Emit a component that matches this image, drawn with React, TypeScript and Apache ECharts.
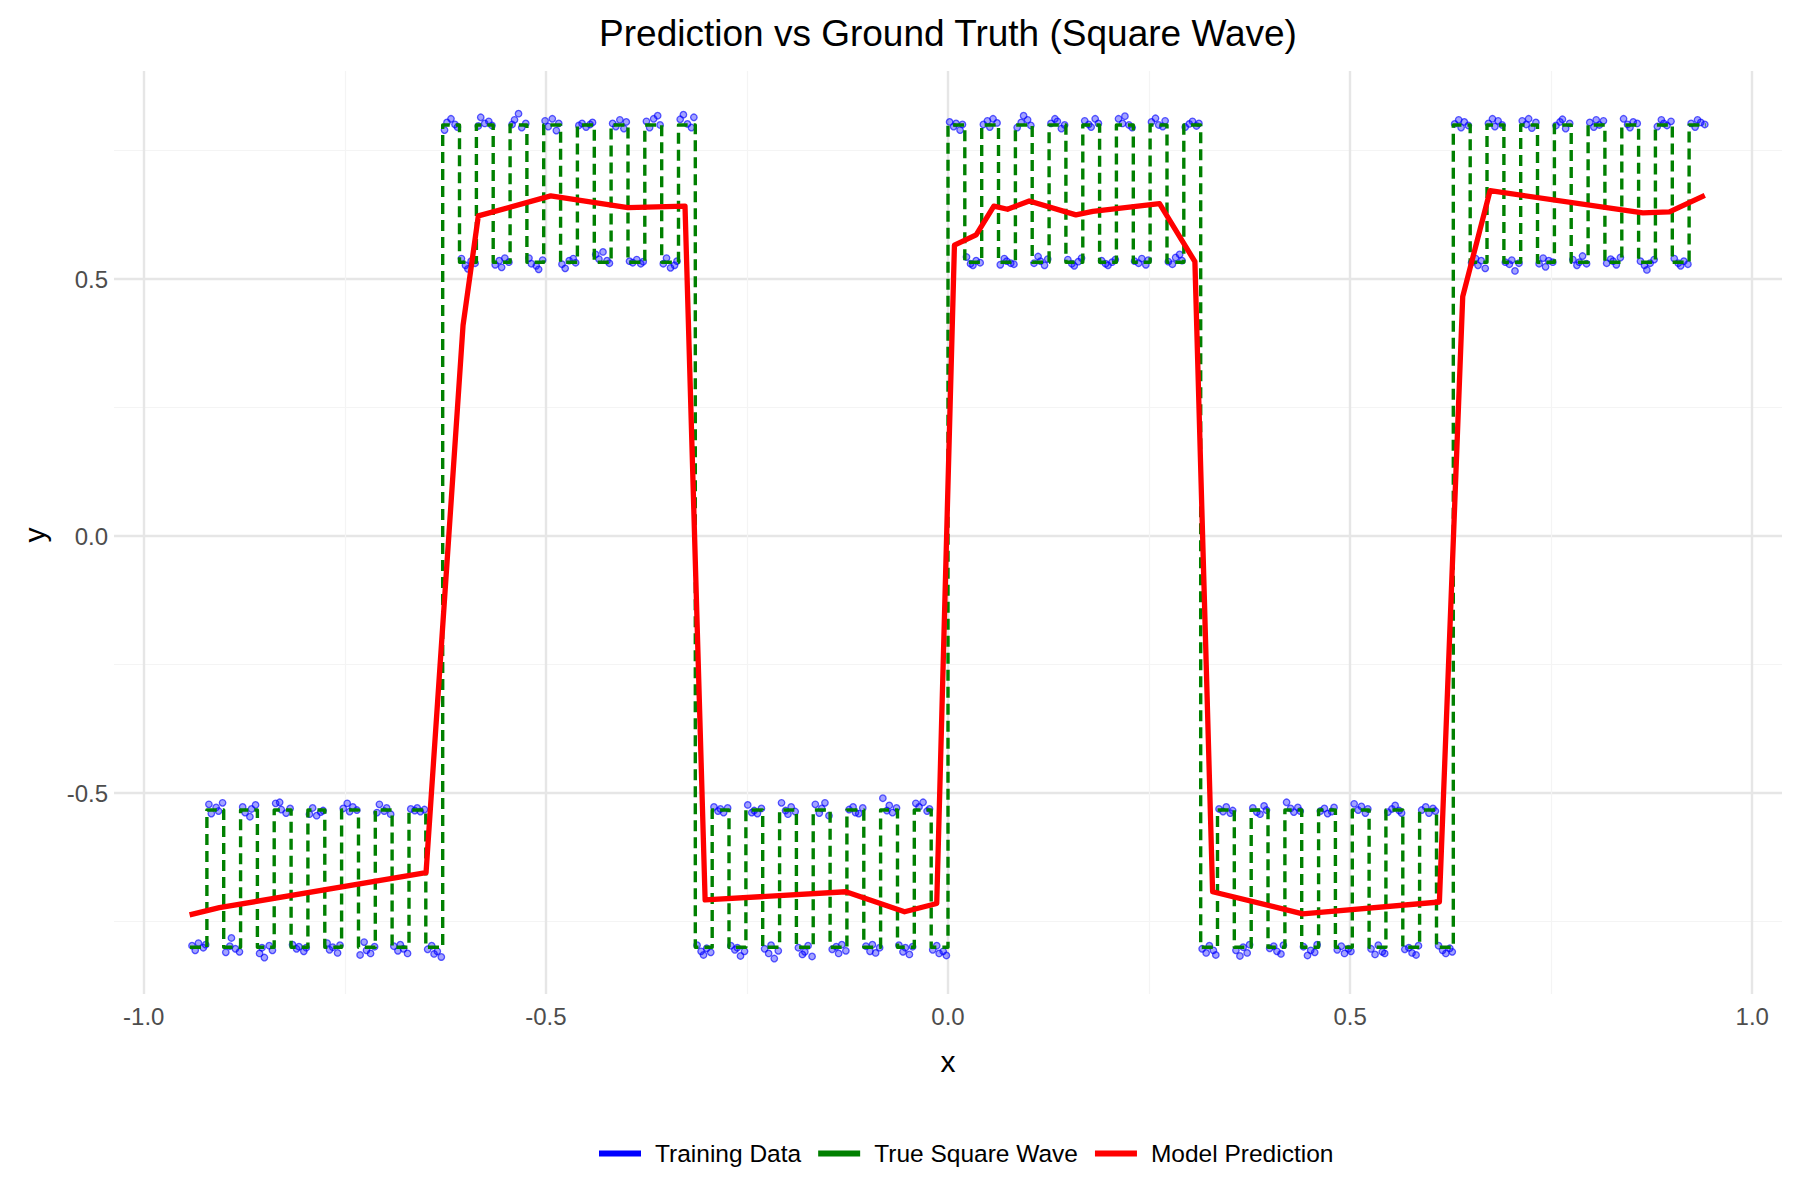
import React, { useEffect, useRef } from 'react';
import * as echarts from 'echarts';

const FONT = '"Liberation Sans", Arimo, Helvetica, Arial, sans-serif';

const X_MIN = -1.037;
const X_MAX = 1.037;
const Y_MIN = -0.891;
const Y_MAX = 0.905;

const X_MAJOR = [-1, -0.5, 0, 0.5, 1];
const X_MINOR = [-0.75, -0.25, 0.25, 0.75];
const Y_MAJOR = [-0.5, 0, 0.5];
const Y_MINOR = [-0.75, -0.25, 0.25, 0.75];

const TITLE = 'Prediction vs Ground Truth (Square Wave)';
const SERIES_NAMES = ['Training Data', 'True Square Wave', 'Model Prediction'];

// x positions where the true square wave switches level (read from the dashed verticals)
const WAVE_EDGES = [
  -0.9425, -0.9215, -0.9006, -0.8796, -0.8587, -0.8378, -0.8168, -0.7959, -0.7749, -0.754,
  -0.733, -0.7121, -0.6912, -0.6702, -0.6493, -0.6283, -0.6074, -0.5864, -0.5655, -0.5445,
  -0.5236, -0.5027, -0.4817, -0.4608, -0.4398, -0.4189, -0.3979, -0.377, -0.356, -0.3351,
  -0.3142, -0.2932, -0.2723, -0.2513, -0.2304, -0.2094, -0.1885, -0.1676, -0.1466, -0.1257,
  -0.1047, -0.0838, -0.0628, -0.0419, -0.0209, 0, 0.0209, 0.0419, 0.0628, 0.0838,
  0.1047, 0.1257, 0.1466, 0.1676, 0.1885, 0.2094, 0.2304, 0.2513, 0.2723, 0.2932,
  0.3142, 0.3351, 0.356, 0.377, 0.3979, 0.4189, 0.4398, 0.4608, 0.4817, 0.5027,
  0.5236, 0.5445, 0.5655, 0.5864, 0.6074, 0.6283, 0.6493, 0.6702, 0.6912, 0.7121,
  0.733, 0.754, 0.7749, 0.7959, 0.8168, 0.8378, 0.8587, 0.8796, 0.9006, 0.9215, 0.9425,
];

// level of the true wave between consecutive edges
const WAVE_LEVELS = [
  -0.8, -0.533, -0.8, -0.533, -0.8, -0.533, -0.8, -0.533, -0.8, -0.533, -0.8, -0.533, -0.8, -0.533, -0.8,
  0.8, 0.533, 0.8, 0.533, 0.8, 0.533, 0.8, 0.533, 0.8, 0.533, 0.8, 0.533, 0.8, 0.533, 0.8,
  -0.8, -0.533, -0.8, -0.533, -0.8, -0.533, -0.8, -0.533, -0.8, -0.533, -0.8, -0.533, -0.8, -0.533, -0.8,
  0.8, 0.533, 0.8, 0.533, 0.8, 0.533, 0.8, 0.533, 0.8, 0.533, 0.8, 0.533, 0.8, 0.533, 0.8,
  -0.8, -0.533, -0.8, -0.533, -0.8, -0.533, -0.8, -0.533, -0.8, -0.533, -0.8, -0.533, -0.8, -0.533, -0.8,
  0.8, 0.533, 0.8, 0.533, 0.8, 0.533, 0.8, 0.533, 0.8, 0.533, 0.8, 0.533, 0.8, 0.533, 0.8,
];

const TRAIN_A = [
  [-0.940, -0.797], [-0.936, -0.806], [-0.932, -0.792], [-0.926, -0.801], [-0.923, -0.795],
  [-0.919, -0.522], [-0.916, -0.540], [-0.910, -0.528], [-0.907, -0.535], [-0.902, -0.519],
  [-0.898, -0.810], [-0.893, -0.798], [-0.891, -0.782], [-0.886, -0.803], [-0.881, -0.809],
  [-0.877, -0.527], [-0.874, -0.538], [-0.868, -0.546], [-0.866, -0.531], [-0.861, -0.523],
  [-0.856, -0.812], [-0.853, -0.801], [-0.850, -0.820], [-0.844, -0.797], [-0.840, -0.806],
  [-0.836, -0.520], [-0.831, -0.518], [-0.829, -0.532], [-0.823, -0.539], [-0.818, -0.530],
  [-0.815, -0.795], [-0.810, -0.803], [-0.807, -0.799], [-0.801, -0.808], [-0.798, -0.801],
  [-0.794, -0.541], [-0.790, -0.529], [-0.785, -0.544], [-0.780, -0.537], [-0.777, -0.534],
  [-0.772, -0.792], [-0.769, -0.805], [-0.765, -0.800], [-0.759, -0.811], [-0.756, -0.796],
  [-0.752, -0.530], [-0.747, -0.520], [-0.744, -0.536], [-0.740, -0.527], [-0.735, -0.533],
  [-0.731, -0.815], [-0.726, -0.790], [-0.723, -0.806], [-0.718, -0.812], [-0.713, -0.799],
  [-0.710, -0.538], [-0.707, -0.522], [-0.701, -0.535], [-0.698, -0.529], [-0.693, -0.541],
  [-0.689, -0.798], [-0.684, -0.807], [-0.681, -0.795], [-0.677, -0.803], [-0.672, -0.812],
  [-0.668, -0.531], [-0.663, -0.534], [-0.660, -0.529], [-0.656, -0.536], [-0.651, -0.532],
  [-0.647, -0.804], [-0.642, -0.797], [-0.639, -0.813], [-0.635, -0.808], [-0.630, -0.819],
];

const TRAIN_B = [
  [-0.626, 0.790], [-0.623, 0.805], [-0.618, 0.812], [-0.613, 0.801], [-0.610, 0.796],
  [-0.605, 0.540], [-0.600, 0.527], [-0.597, 0.520], [-0.593, 0.535], [-0.588, 0.531],
  [-0.584, 0.798], [-0.581, 0.815], [-0.576, 0.803], [-0.571, 0.807], [-0.567, 0.799],
  [-0.563, 0.528], [-0.558, 0.536], [-0.555, 0.523], [-0.551, 0.541], [-0.546, 0.533],
  [-0.542, 0.801], [-0.539, 0.810], [-0.534, 0.822], [-0.530, 0.795], [-0.525, 0.803],
  [-0.521, 0.541], [-0.518, 0.530], [-0.512, 0.526], [-0.509, 0.519], [-0.504, 0.537],
  [-0.501, 0.808], [-0.497, 0.797], [-0.492, 0.812], [-0.487, 0.789], [-0.484, 0.803],
  [-0.480, 0.529], [-0.476, 0.521], [-0.471, 0.536], [-0.466, 0.540], [-0.463, 0.532],
  [-0.459, 0.799], [-0.455, 0.803], [-0.450, 0.796], [-0.445, 0.801], [-0.442, 0.805],
  [-0.438, 0.548], [-0.434, 0.539], [-0.429, 0.553], [-0.424, 0.536], [-0.421, 0.531],
  [-0.417, 0.803], [-0.413, 0.797], [-0.408, 0.810], [-0.403, 0.793], [-0.400, 0.806],
  [-0.396, 0.535], [-0.392, 0.532], [-0.387, 0.538], [-0.382, 0.530], [-0.379, 0.534],
  [-0.375, 0.807], [-0.371, 0.795], [-0.366, 0.812], [-0.361, 0.818], [-0.358, 0.800],
  [-0.354, 0.530], [-0.350, 0.541], [-0.345, 0.522], [-0.340, 0.527], [-0.337, 0.535],
  [-0.333, 0.811], [-0.329, 0.820], [-0.324, 0.802], [-0.319, 0.795], [-0.316, 0.815],
];

const TRAIN_C = [
  [-0.312, -0.796], [-0.307, -0.808], [-0.304, -0.815], [-0.300, -0.802], [-0.295, -0.810],
  [-0.291, -0.527], [-0.286, -0.535], [-0.283, -0.531], [-0.279, -0.538], [-0.274, -0.529],
  [-0.270, -0.797], [-0.265, -0.805], [-0.262, -0.801], [-0.258, -0.817], [-0.253, -0.808],
  [-0.249, -0.523], [-0.244, -0.538], [-0.241, -0.534], [-0.237, -0.540], [-0.232, -0.530],
  [-0.228, -0.803], [-0.223, -0.812], [-0.220, -0.796], [-0.216, -0.822], [-0.211, -0.807],
  [-0.207, -0.519], [-0.202, -0.534], [-0.199, -0.541], [-0.195, -0.527], [-0.190, -0.536],
  [-0.186, -0.801], [-0.181, -0.814], [-0.178, -0.809], [-0.174, -0.797], [-0.169, -0.818],
  [-0.165, -0.522], [-0.160, -0.539], [-0.157, -0.530], [-0.153, -0.519], [-0.148, -0.544],
  [-0.144, -0.804], [-0.139, -0.799], [-0.136, -0.812], [-0.132, -0.795], [-0.127, -0.807],
  [-0.123, -0.532], [-0.118, -0.527], [-0.115, -0.538], [-0.111, -0.540], [-0.106, -0.529],
  [-0.102, -0.798], [-0.097, -0.808], [-0.094, -0.795], [-0.090, -0.811], [-0.085, -0.801],
  [-0.081, -0.510], [-0.076, -0.534], [-0.073, -0.524], [-0.069, -0.538], [-0.064, -0.529],
  [-0.061, -0.796], [-0.056, -0.809], [-0.053, -0.801], [-0.048, -0.814], [-0.044, -0.799],
  [-0.040, -0.520], [-0.036, -0.527], [-0.031, -0.518], [-0.026, -0.535], [-0.023, -0.531],
  [-0.019, -0.805], [-0.014, -0.797], [-0.011, -0.812], [-0.006, -0.808], [-0.002, -0.816],
];

const TRAIN_D = [
  [0.002, 0.806], [0.007, 0.797], [0.010, 0.803], [0.015, 0.790], [0.018, 0.801],
  [0.023, 0.543], [0.028, 0.530], [0.031, 0.527], [0.035, 0.536], [0.040, 0.532],
  [0.044, 0.801], [0.049, 0.808], [0.052, 0.796], [0.056, 0.812], [0.061, 0.804],
  [0.065, 0.528], [0.070, 0.540], [0.073, 0.535], [0.078, 0.531], [0.082, 0.529],
  [0.086, 0.795], [0.091, 0.805], [0.094, 0.818], [0.099, 0.810], [0.103, 0.799],
  [0.107, 0.531], [0.112, 0.544], [0.115, 0.535], [0.120, 0.527], [0.124, 0.539],
  [0.128, 0.803], [0.133, 0.812], [0.136, 0.807], [0.141, 0.793], [0.145, 0.800],
  [0.149, 0.538], [0.154, 0.530], [0.157, 0.526], [0.162, 0.534], [0.166, 0.541],
  [0.170, 0.808], [0.175, 0.801], [0.178, 0.796], [0.183, 0.812], [0.187, 0.803],
  [0.191, 0.536], [0.196, 0.530], [0.199, 0.527], [0.204, 0.533], [0.208, 0.538],
  [0.212, 0.812], [0.217, 0.803], [0.220, 0.817], [0.225, 0.800], [0.229, 0.795],
  [0.232, 0.535], [0.237, 0.531], [0.241, 0.540], [0.246, 0.528], [0.249, 0.537],
  [0.253, 0.806], [0.258, 0.813], [0.262, 0.800], [0.267, 0.797], [0.270, 0.808],
  [0.274, 0.534], [0.279, 0.529], [0.283, 0.542], [0.288, 0.548], [0.291, 0.536],
  [0.295, 0.796], [0.300, 0.802], [0.304, 0.807], [0.309, 0.798], [0.312, 0.803],
];

const TRAIN_E = [
  [0.316, -0.803], [0.321, -0.811], [0.325, -0.797], [0.330, -0.806], [0.333, -0.815],
  [0.337, -0.531], [0.342, -0.536], [0.346, -0.527], [0.351, -0.539], [0.354, -0.534],
  [0.358, -0.806], [0.363, -0.817], [0.367, -0.800], [0.372, -0.811], [0.375, -0.795],
  [0.379, -0.529], [0.384, -0.537], [0.388, -0.541], [0.393, -0.525], [0.396, -0.533],
  [0.400, -0.802], [0.405, -0.798], [0.409, -0.808], [0.414, -0.813], [0.417, -0.796],
  [0.421, -0.518], [0.426, -0.530], [0.430, -0.537], [0.435, -0.528], [0.438, -0.535],
  [0.442, -0.799], [0.447, -0.816], [0.451, -0.806], [0.456, -0.810], [0.459, -0.795],
  [0.463, -0.535], [0.468, -0.530], [0.472, -0.540], [0.477, -0.536], [0.480, -0.528],
  [0.484, -0.805], [0.489, -0.798], [0.493, -0.812], [0.498, -0.803], [0.501, -0.808],
  [0.505, -0.521], [0.510, -0.533], [0.514, -0.526], [0.519, -0.539], [0.522, -0.531],
  [0.526, -0.803], [0.531, -0.814], [0.535, -0.796], [0.540, -0.809], [0.543, -0.812],
  [0.547, -0.537], [0.552, -0.531], [0.556, -0.524], [0.561, -0.534], [0.564, -0.539],
  [0.568, -0.804], [0.573, -0.801], [0.577, -0.811], [0.582, -0.815], [0.585, -0.797],
  [0.589, -0.533], [0.594, -0.527], [0.598, -0.539], [0.603, -0.530], [0.606, -0.535],
  [0.610, -0.797], [0.615, -0.806], [0.619, -0.812], [0.624, -0.802], [0.627, -0.809],
];

const TRAIN_F = [
  [0.630, 0.802], [0.635, 0.810], [0.638, 0.795], [0.642, 0.806], [0.647, 0.799],
  [0.651, 0.532], [0.656, 0.540], [0.659, 0.527], [0.663, 0.536], [0.668, 0.521],
  [0.672, 0.803], [0.677, 0.812], [0.680, 0.797], [0.684, 0.808], [0.689, 0.800],
  [0.693, 0.533], [0.698, 0.529], [0.701, 0.537], [0.705, 0.516], [0.710, 0.531],
  [0.714, 0.808], [0.719, 0.801], [0.722, 0.812], [0.726, 0.794], [0.731, 0.805],
  [0.735, 0.530], [0.740, 0.541], [0.743, 0.524], [0.747, 0.536], [0.752, 0.533],
  [0.756, 0.799], [0.761, 0.806], [0.764, 0.811], [0.768, 0.793], [0.773, 0.803],
  [0.777, 0.538], [0.782, 0.527], [0.785, 0.533], [0.789, 0.545], [0.794, 0.530],
  [0.798, 0.805], [0.803, 0.796], [0.806, 0.810], [0.810, 0.800], [0.815, 0.808],
  [0.819, 0.531], [0.824, 0.539], [0.827, 0.535], [0.831, 0.528], [0.836, 0.542],
  [0.840, 0.812], [0.845, 0.801], [0.848, 0.795], [0.852, 0.806], [0.857, 0.803],
  [0.861, 0.535], [0.866, 0.527], [0.869, 0.518], [0.873, 0.531], [0.878, 0.538],
  [0.882, 0.797], [0.887, 0.810], [0.890, 0.803], [0.894, 0.799], [0.899, 0.807],
  [0.903, 0.540], [0.908, 0.531], [0.911, 0.526], [0.915, 0.535], [0.920, 0.529],
  [0.924, 0.803], [0.929, 0.796], [0.932, 0.810], [0.936, 0.805], [0.941, 0.801],
];

const PREDICTION = [
  [-0.943, -0.737], [-0.906, -0.723], [-0.649, -0.655], [-0.603, 0.41], [-0.584, 0.623],
  [-0.494, 0.662], [-0.398, 0.639], [-0.327, 0.642], [-0.302, -0.708], [-0.127, -0.692],
  [-0.054, -0.731], [-0.014, -0.715], [0.008, 0.566], [0.035, 0.586], [0.057, 0.642],
  [0.074, 0.636], [0.101, 0.652], [0.159, 0.625], [0.18, 0.632], [0.263, 0.647],
  [0.307, 0.534], [0.329, -0.692], [0.441, -0.735], [0.611, -0.712], [0.64, 0.466],
  [0.674, 0.672], [0.864, 0.629], [0.897, 0.631], [0.941, 0.663],
];

const fmt = (v: number) => Number(v).toFixed(1);

function buildWave() {
  const pts: number[][] = [];
  for (let i = 0; i < WAVE_LEVELS.length; i++) {
    pts.push([WAVE_EDGES[i], WAVE_LEVELS[i]]);
    pts.push([WAVE_EDGES[i + 1], WAVE_LEVELS[i]]);
  }
  return pts;
}

export default function App() {
  const ref = useRef<HTMLDivElement>(null);

  useEffect(() => {
    document.body.style.margin = '0';
    if (!ref.current) return;
    const chart = echarts.init(ref.current, null, { renderer: 'svg' });

    const training = [...TRAIN_A, ...TRAIN_B, ...TRAIN_C, ...TRAIN_D, ...TRAIN_E, ...TRAIN_F];

    const majorLine = { show: true, lineStyle: { color: '#e6e6e6', width: 2.4 } };
    const minorLine = { show: true, lineStyle: { color: '#f4f4f4', width: 1.2 } };

    const option: any = {
      animation: false,
      backgroundColor: '#ffffff',
      textStyle: { fontFamily: FONT },
      grid: {
        left: 114,
        right: 18,
        top: 71,
        bottom: 206,
        containLabel: false,
        outerBoundsMode: 'none',
      },
      xAxis: [
        {
          type: 'value',
          min: X_MIN,
          max: X_MAX,
          position: 'bottom',
          axisLine: { show: false },
          axisTick: { show: false, customValues: X_MAJOR },
          axisLabel: {
            customValues: X_MAJOR,
            formatter: fmt,
            fontSize: 24,
            color: '#4d4d4d',
            fontFamily: FONT,
            margin: 10,
          },
          splitLine: majorLine,
          z: 0,
        },
        {
          type: 'value',
          min: X_MIN,
          max: X_MAX,
          position: 'top',
          axisLine: { show: false },
          axisTick: { show: false, customValues: X_MINOR },
          axisLabel: { show: false, customValues: X_MINOR },
          splitLine: minorLine,
          z: 0,
        },
      ],
      yAxis: [
        {
          type: 'value',
          min: Y_MIN,
          max: Y_MAX,
          position: 'left',
          axisLine: { show: false },
          axisTick: { show: false, customValues: Y_MAJOR },
          axisLabel: {
            customValues: Y_MAJOR,
            formatter: fmt,
            fontSize: 24,
            color: '#4d4d4d',
            fontFamily: FONT,
            margin: 6,
          },
          splitLine: majorLine,
          z: 0,
        },
        {
          type: 'value',
          min: Y_MIN,
          max: Y_MAX,
          position: 'right',
          axisLine: { show: false },
          axisTick: { show: false, customValues: Y_MINOR },
          axisLabel: { show: false, customValues: Y_MINOR },
          splitLine: minorLine,
          z: 0,
        },
      ],
      legend: {
        left: 599,
        top: 1141,
        padding: 0,
        orient: 'horizontal',
        icon: 'rect',
        itemWidth: 42,
        itemHeight: 6,
        itemGap: 17,
        textStyle: { fontSize: 24.5, color: '#000000', fontFamily: FONT, padding: [0, 0, 0, 9] },
        data: [
          { name: SERIES_NAMES[0], itemStyle: { color: '#0000ff', borderWidth: 0, opacity: 1 } },
          { name: SERIES_NAMES[1], itemStyle: { color: '#008000', borderWidth: 0 } },
          { name: SERIES_NAMES[2], itemStyle: { color: '#ff0000', borderWidth: 0 } },
        ],
      },
      graphic: [
        {
          type: 'text',
          x: 948,
          y: 33,
          style: {
            text: TITLE,
            fontSize: 37,
            fontFamily: FONT,
            fill: '#000000',
            align: 'center',
            verticalAlign: 'middle',
            textAlign: 'center',
            textVerticalAlign: 'middle',
          },
        },
        {
          type: 'text',
          x: 948,
          y: 1061,
          style: {
            text: 'x',
            fontSize: 30,
            fontFamily: FONT,
            fill: '#000000',
            align: 'center',
            verticalAlign: 'middle',
            textAlign: 'center',
            textVerticalAlign: 'middle',
          },
        },
        {
          type: 'text',
          x: 34,
          y: 535,
          rotation: Math.PI / 2,
          style: {
            text: 'y',
            fontSize: 30,
            fontFamily: FONT,
            fill: '#000000',
            align: 'center',
            verticalAlign: 'middle',
            textAlign: 'center',
            textVerticalAlign: 'middle',
          },
        },
      ],
      series: [
        {
          name: SERIES_NAMES[0],
          type: 'scatter',
          data: training,
          symbol: 'circle',
          symbolSize: 6.5,
          itemStyle: {
            color: 'rgba(0,0,255,0.45)',
            borderColor: 'rgba(0,0,255,0.8)',
            borderWidth: 1.3,
          },
          z: 2,
        },
        {
          name: SERIES_NAMES[1],
          type: 'line',
          data: buildWave(),
          color: '#008000',
          showSymbol: false,
          symbol: 'none',
          lineStyle: { color: '#008000', width: 3.4, type: [11, 6], cap: 'butt', join: 'round' },
          z: 3,
        },
        {
          name: SERIES_NAMES[2],
          type: 'line',
          data: PREDICTION,
          color: '#ff0000',
          showSymbol: false,
          symbol: 'none',
          lineStyle: { color: '#ff0000', width: 5.3, cap: 'butt', join: 'round' },
          z: 4,
        },
      ],
    };

    chart.setOption(option);
    return () => chart.dispose();
  }, []);

  return <div ref={ref} style={{ width: 1800, height: 1200 }} />;
}
